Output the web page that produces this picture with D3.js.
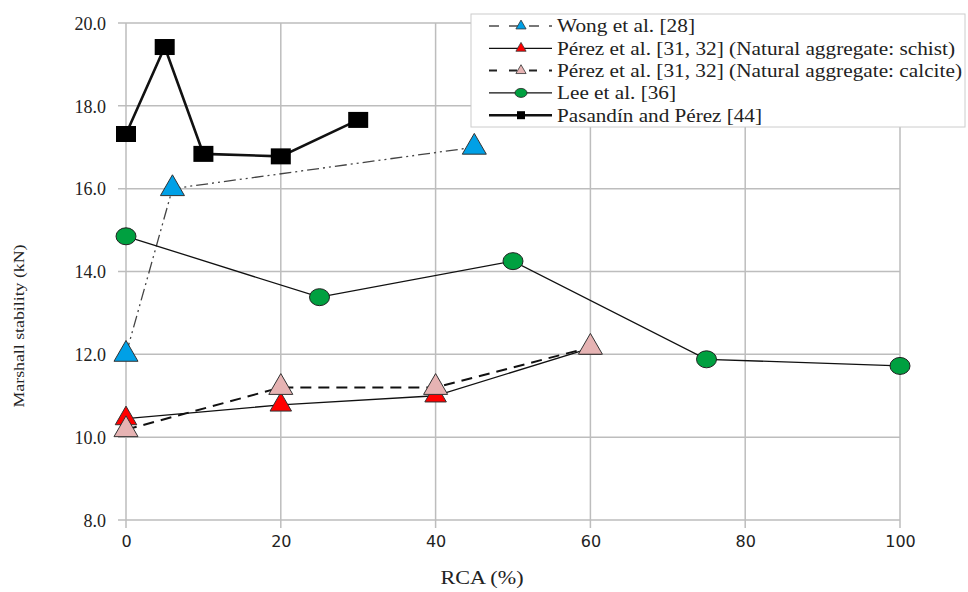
<!DOCTYPE html>
<html><head><meta charset="utf-8">
<script src="https://cdn.jsdelivr.net/npm/d3@7"></script>
<style>body{margin:0;background:#fff}svg{display:block} text{font-family:"Liberation Serif","Times New Roman",Tinos,"DejaVu Serif","Noto Serif",FreeSerif,Times,serif;}</style>
</head><body>
<svg id="c" width="968" height="592"></svg>
<script>
const xTicks = [0, 20, 40, 60, 80, 100];
const yTicks = [8, 10, 12, 14, 16, 18, 20];
const wongX = [0, 6, 45];
const wongY = [12.0, 16.0, 17.0];
const schistX = [0, 20, 40, 60];
const schistY = [10.45, 10.78, 11.0, 12.15];
const calciteX = [0, 20, 40, 60];
const calciteY = [10.18, 11.2, 11.2, 12.17];
const leeX = [0, 25, 50, 75, 100];
const leeY = [14.85, 13.38, 14.25, 11.88, 11.72];
const pasX = [0, 5, 10, 20, 30];
const pasY = [17.32, 19.42, 16.84, 16.78, 17.66];
const seriesNames = ["Wong et al. [28]", "Pérez et al. [31, 32] (Natural aggregate: schist)", "Pérez et al. [31, 32] (Natural aggregate: calcite)", "Lee et al. [36]", "Pasandín and Pérez [44]"];

const svg = d3.select("#c");
const x = d3.scaleLinear().domain([0, 100]).range([126, 900]);
const y = d3.scaleLinear().domain([8, 20]).range([520, 23]);
const grid = "#bdbdbd";

svg.append("g").selectAll("line").data(yTicks).join("line")
  .attr("x1", x(0) - 8).attr("x2", x(100)).attr("y1", d => y(d)).attr("y2", d => y(d))
  .attr("stroke", grid).attr("stroke-width", 1.5);
svg.append("g").selectAll("line").data(xTicks).join("line")
  .attr("x1", d => x(d)).attr("x2", d => x(d)).attr("y1", y(20)).attr("y2", y(8) + 8)
  .attr("stroke", grid).attr("stroke-width", 1.5);

const xAxis = d3.axisBottom(x).tickValues(xTicks).tickSize(0).tickPadding(0).tickFormat(d3.format("d"));
const gx = svg.append("g").attr("transform", `translate(0,${y(8)})`).call(xAxis);
gx.select(".domain").remove();
gx.attr("font-family", null);
gx.selectAll("text").attr("y", 27).attr("dy", 0).attr("fill", "#222")
  .style("font-family", "'DejaVu Sans', Verdana, sans-serif").attr("font-size", 16);
const yAxis = d3.axisLeft(y).tickValues(yTicks).tickSize(0).tickFormat(d3.format(".1f"));
const gy = svg.append("g").attr("transform", `translate(${x(0)},0)`).call(yAxis);
gy.select(".domain").remove();
gy.attr("font-family", null);
gy.selectAll("text").attr("x", -20).attr("dy", "0.35em").attr("font-size", 18).attr("fill", "#222");

svg.append("text").attr("x", 482).attr("y", 584).attr("text-anchor", "middle")
  .attr("font-size", 18).attr("fill", "#222")
  .attr("textLength", 83).attr("lengthAdjust", "spacingAndGlyphs").text("RCA (%)");
svg.append("text").attr("transform", "translate(24,326) rotate(-90)").attr("text-anchor", "middle")
  .attr("font-size", 15).attr("fill", "#222")
  .attr("textLength", 163).attr("lengthAdjust", "spacingAndGlyphs").text("Marshall stability (kN)");

const line = d3.line().x(d => x(d[0])).y(d => y(d[1]));
const zip = (a, b) => a.map((v, i) => [v, b[i]]);

function drawTri(g, pts, fill, sz) {
  g.selectAll(null).data(pts).join("path")
    .attr("d", d3.symbol().type(d3.symbolTriangle).size(sz)())
    .attr("transform", d => `translate(${x(d[0])},${y(d[1])})`)
    .attr("fill", fill).attr("stroke", "#333").attr("stroke-width", 1);
}

const dashDotDot = "12,4,2,4,2,4";

const gw = svg.append("g");
gw.append("path").attr("d", line(zip(wongX, wongY))).attr("fill", "none").attr("stroke", "#444").attr("stroke-width", 1.3).attr("stroke-dasharray", dashDotDot);
const gs = svg.append("g");
gs.append("path").attr("d", line(zip(schistX, schistY))).attr("fill", "none").attr("stroke", "#111").attr("stroke-width", 1.3);
const gc = svg.append("g");
gc.append("path").attr("d", line(zip(calciteX, calciteY))).attr("fill", "none").attr("stroke", "#111").attr("stroke-width", 2).attr("stroke-dasharray", "11,7");
const gl = svg.append("g");
gl.append("path").attr("d", line(zip(leeX, leeY))).attr("fill", "none").attr("stroke", "#111").attr("stroke-width", 1.3);
const gp = svg.append("g");
gp.append("path").attr("d", line(zip(pasX, pasY))).attr("fill", "none").attr("stroke", "#111").attr("stroke-width", 2.6);

drawTri(gs, zip(schistX, schistY), "#ff0000", 200);
drawTri(gc, zip(calciteX, calciteY), "#e6b3b3", 250);
drawTri(gw, zip(wongX, wongY), "#00a0e6", 250);
gl.selectAll(null).data(zip(leeX, leeY)).join("ellipse")
  .attr("cx", d => x(d[0])).attr("cy", d => y(d[1])).attr("rx", 10).attr("ry", 8.5)
  .attr("fill", "#00a040").attr("stroke", "#222").attr("stroke-width", 1);
gp.selectAll(null).data(zip(pasX, pasY)).join("rect")
  .attr("x", d => x(d[0]) - 10).attr("y", d => y(d[1]) - 8).attr("width", 20).attr("height", 16)
  .attr("fill", "#000");

const lg = svg.append("g");
lg.append("rect").attr("x", 471).attr("y", 14).attr("width", 494).attr("height", 113)
  .attr("fill", "#fff").attr("stroke", "#ccc").attr("stroke-width", 1);
const legStyles = [
  {dash: "10,10", sw: 2, stroke: "#777", marker: "tri", fill: "#00a0e6", tl: 138},
  {dash: null, sw: 1.3, stroke: "#111", marker: "tri", fill: "#ff0000", tl: 398},
  {dash: "8,12", sw: 2, stroke: "#222", marker: "tri", fill: "#e6b3b3", tl: 405},
  {dash: null, sw: 1.3, stroke: "#111", marker: "circ", fill: "#00a040", tl: 119},
  {dash: null, sw: 2.4, stroke: "#111", marker: "sq", fill: "#000", tl: 205}
];
seriesNames.forEach((name, i) => {
  const cy = 26 + i * 22.3;
  const st = legStyles[i];
  lg.append("line").attr("x1", 489).attr("x2", 552).attr("y1", cy).attr("y2", cy)
    .attr("stroke", st.stroke).attr("stroke-width", st.sw).attr("stroke-dasharray", st.dash);
  if (st.marker === "tri") {
    lg.append("path").attr("d", d3.symbol().type(d3.symbolTriangle).size(45)())
      .attr("transform", `translate(521,${cy})`).attr("fill", st.fill).attr("stroke", "#333").attr("stroke-width", 0.8);
  } else if (st.marker === "circ") {
    lg.append("ellipse").attr("cx", 521).attr("cy", cy).attr("rx", 6).attr("ry", 4.5).attr("fill", st.fill).attr("stroke", "#222").attr("stroke-width", 0.8);
  } else {
    lg.append("rect").attr("x", 517).attr("y", cy - 4).attr("width", 8).attr("height", 8).attr("fill", st.fill);
  }
  lg.append("text").attr("x", 557).attr("y", cy).attr("dy", "0.35em")
    .attr("font-size", 18).attr("fill", "#222")
    .attr("textLength", st.tl).attr("lengthAdjust", "spacingAndGlyphs").text(name);
});
</script>
</body></html>
